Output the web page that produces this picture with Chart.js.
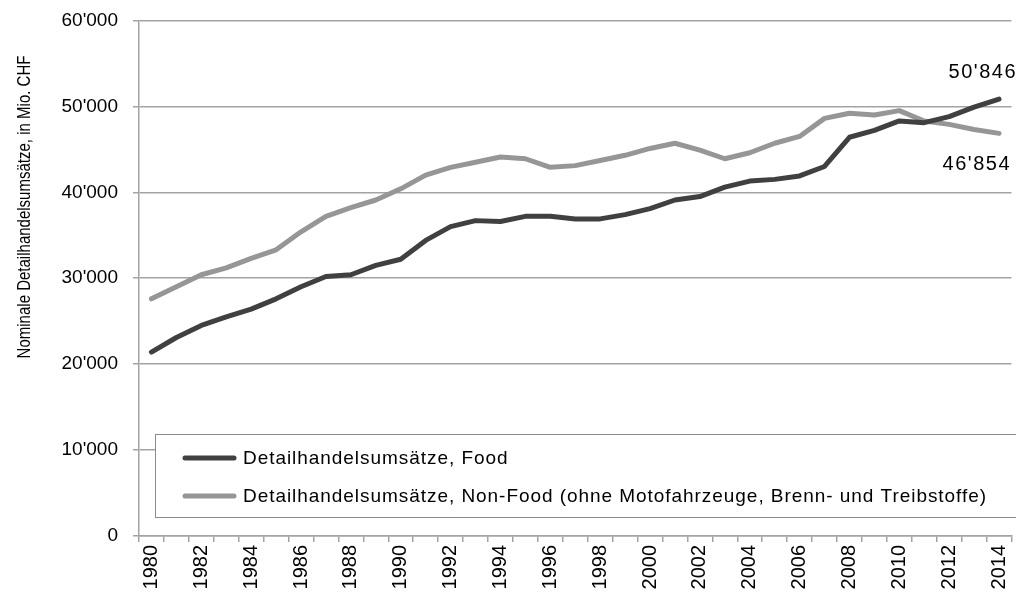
<!DOCTYPE html>
<html><head><meta charset="utf-8">
<script src="https://cdn.jsdelivr.net/npm/chart.js@4/dist/chart.umd.min.js"></script>
<style>
html,body{margin:0;padding:0;overflow:hidden;background:#fff;width:1016px;height:605px}
#wrap{position:relative;width:1016px;height:605px;overflow:hidden}
canvas{display:block;position:absolute;left:0;top:-6px}
</style></head>
<body><div id="wrap"><canvas id="c" width="1026" height="611"></canvas></div>
<script>
const years = ['1980','1981','1982','1983','1984','1985','1986','1987','1988','1989','1990','1991','1992','1993','1994','1995','1996','1997','1998','1999','2000','2001','2002','2003','2004','2005','2006','2007','2008','2009','2010','2011','2012','2013','2014'];
const food = [21400,23100,24500,25500,26400,27600,29000,30200,30400,31500,32200,34400,36000,36700,36600,37200,37200,36900,36900,37400,38100,39100,39500,40600,41300,41500,41900,43000,46400,47200,48300,48100,48800,49900,50846];
const nonFood = [27600,29000,30400,31200,32300,33300,35400,37200,38200,39100,40400,42000,42900,43500,44100,43900,42900,43100,43700,44300,45100,45700,44900,43900,44600,45700,46500,48600,49200,49000,49500,48300,47900,47300,46854];
const seriesNames = ['Detailhandelsumsätze, Food','Detailhandelsumsätze, Non-Food (ohne Motofahrzeuge, Brenn- und Treibstoffe)'];
const yTitle = 'Nominale Detailhandelsumsätze, in Mio. CHF';
const colors = ['#404040','#969696'];
const gridColor = '#a3a3a3';
const FONT = '"Liberation Sans", Arial, sans-serif';
const DY = 6; // canvas is shifted up by this many px

function fmt(v){ return String(Math.round(v)).replace(/\B(?=(\d{3})+(?!\d))/g, "'"); }

const extras = {
  id:'extras',
  afterDraw(chart){
    const ctx = chart.ctx;
    // y title
    ctx.save();
    ctx.translate(25, 207 + DY);
    ctx.rotate(-Math.PI/2);
    ctx.scale(0.79, 1);
    ctx.fillStyle = '#000';
    ctx.font = '19px ' + FONT;
    ctx.textAlign = 'center';
    ctx.textBaseline = 'middle';
    ctx.fillText(yTitle, 0, 0);
    ctx.restore();
    // end labels
    ctx.save();
    ctx.fillStyle = '#000';
    ctx.font = '20px ' + FONT;
    if ('letterSpacing' in ctx) ctx.letterSpacing = '1.5px';
    ctx.textAlign = 'right';
    ctx.textBaseline = 'middle';
    const p0 = chart.getDatasetMeta(0).data[food.length-1];
    const p1 = chart.getDatasetMeta(1).data[nonFood.length-1];
    ctx.fillText(fmt(food[food.length-1]), 1017, p0.y - 27);
    ctx.fillText(fmt(nonFood[nonFood.length-1]), 1011, p1.y + 31);
    ctx.restore();
    // legend
    ctx.save();
    ctx.fillStyle = '#fff';
    ctx.fillRect(155, 434 + DY, 880, 83);
    ctx.strokeStyle = '#8a8a8a';
    ctx.lineWidth = 1;
    ctx.strokeRect(155.5, 434.5 + DY, 880, 83);
    const rows = [458, 496];
    rows.forEach((y0, i) => {
      const y = y0 + DY;
      ctx.strokeStyle = colors[i];
      ctx.lineWidth = 5;
      ctx.lineCap = 'round';
      ctx.beginPath(); ctx.moveTo(185, y); ctx.lineTo(234, y); ctx.stroke();
      ctx.fillStyle = '#000';
      ctx.font = '19px ' + FONT;
      if ('letterSpacing' in ctx) ctx.letterSpacing = '0.95px';
      ctx.textAlign = 'left';
      ctx.textBaseline = 'middle';
      ctx.fillText(seriesNames[i], 243, y + 1);
    });
    ctx.restore();
  }
};

new Chart(document.getElementById('c'), {
  type:'line',
  data:{
    labels: years,
    datasets:[
      {label: seriesNames[0], data: food, borderColor: colors[0], backgroundColor: colors[0]},
      {label: seriesNames[1], data: nonFood, borderColor: colors[1], backgroundColor: colors[1]}
    ]
  },
  options:{
    responsive:false, animation:false, devicePixelRatio:1,
    layout:{padding:{left:0,right:0,top:15,bottom:0}},
    plugins:{legend:{display:false}, tooltip:{enabled:false}},
    elements:{point:{radius:0}, line:{tension:0, borderWidth:5, borderCapStyle:'round', borderJoinStyle:'round'}},
    scales:{
      x:{
        type:'category', offset:true,
        grid:{display:true, drawOnChartArea:false, offset:true, tickLength:6, color:gridColor, lineWidth:1.5},
        border:{display:true, color:gridColor, width:1.5},
        ticks:{autoSkip:false, maxRotation:90, minRotation:90, padding:3, color:'#000',
          font:{family:FONT, size:20},
          callback:(v,i)=> i%2===0 ? years[i] : ''},
        afterFit:s=>{ s.height = 69; }
      },
      y:{
        min:0, max:60000,
        ticks:{stepSize:10000, padding:15, color:'#000', font:{family:FONT, size:19}, callback:v=>fmt(v)},
        grid:{color:gridColor, lineWidth:1.5, tickLength:6, drawTicks:true},
        border:{display:true, color:gridColor, width:1.5},
        afterFit:s=>{ s.width = 139; }
      }
    }
  },
  plugins:[extras]
});
</script>
</body></html>
